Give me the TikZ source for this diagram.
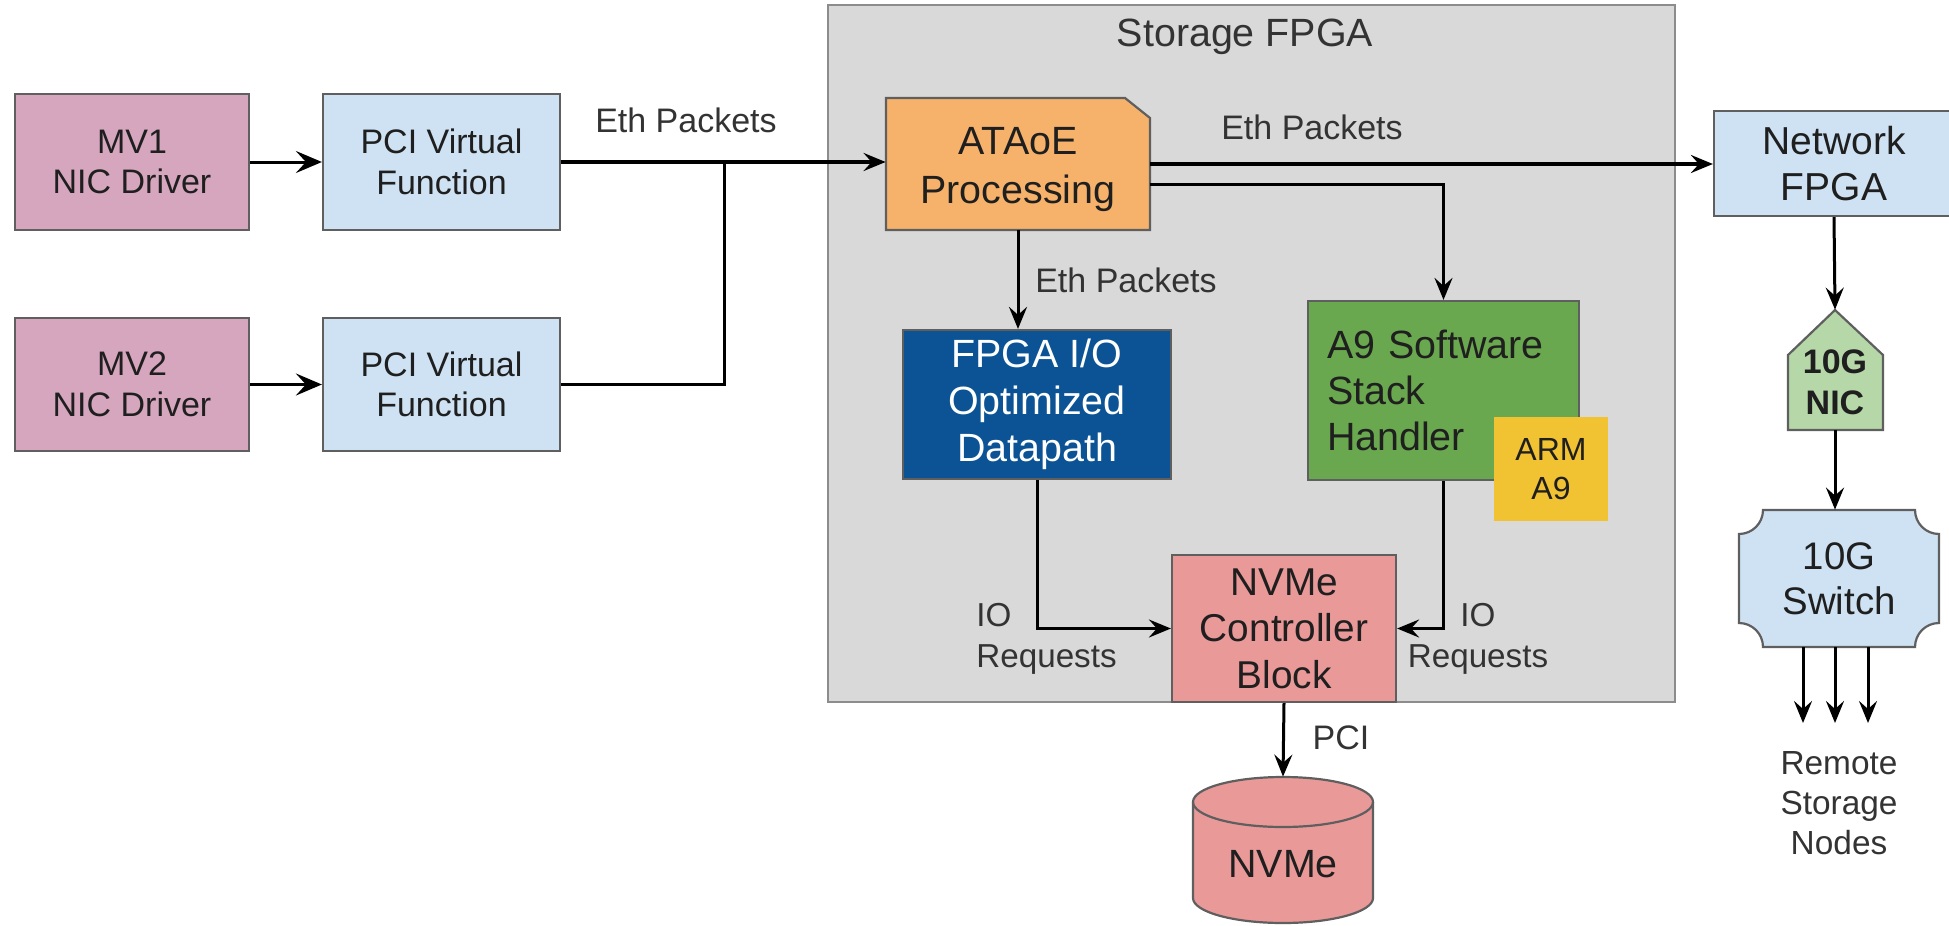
\documentclass[tikz,border=0pt]{standalone}
\usepackage{fontspec}
\setmainfont{Liberation Sans}
\usetikzlibrary{arrows.meta}

\definecolor{mvpink}{HTML}{D5A6BD}
\definecolor{pciblue}{HTML}{CFE2F3}
\definecolor{fpgagray}{HTML}{D9D9D9}
\definecolor{fpgaedge}{HTML}{8C8C8C}
\definecolor{ataorange}{HTML}{F6B26B}
\definecolor{iodark}{HTML}{0B5394}
\definecolor{a9green}{HTML}{6AA84F}
\definecolor{armyellow}{HTML}{F1C232}
\definecolor{nvmered}{HTML}{EA9999}
\definecolor{nicgreen}{HTML}{B6D7A8}
\definecolor{edgegray}{HTML}{5F5F5F}
\definecolor{labelgray}{HTML}{333333}
\definecolor{boxtext}{HTML}{1F1F1F}

\newcommand{\fntbig}{\fontsize{19.7}{23.3}\selectfont}
\newcommand{\fntsmall}{\fontsize{17}{20.3}\selectfont}

\begin{document}
\begin{tikzpicture}[x=0.5pt, y=-0.5pt,
  box/.style={draw=edgegray, line width=1.1pt, inner sep=0pt, align=center, text=boxtext},
  sz/.style 2 args={minimum width=#1*0.5pt, minimum height=#2*0.5pt},
  shapenode/.style={inner sep=0pt, align=center, text=boxtext},
  outline/.style={draw=edgegray, line width=1.1pt},
  lbl/.style={text=labelgray, font=\fntsmall, inner sep=0pt},
  tip/.style={-{Stealth[length=11pt, width=9pt, inset=4pt]}},
  bigtip/.style={-{Stealth[length=13pt, width=11pt, inset=5pt]}},
  wire/.style={line width=1.5pt, draw=black},
  arrow/.style={wire, tip},
  bigarrow/.style={wire, bigtip},
  mainarrow/.style={line width=2pt, draw=black, tip},
]
\useasboundingbox (0,0) rectangle (1949,926);

% storage FPGA enclosure
\node[draw=fpgaedge, fill=fpgagray, line width=1.2pt, sz={847}{697}] (sfpga) at (1251.5,353.5) {};
\node[lbl, font=\fntbig] (sfpgatitle) at (1245,37) {Storage FPGA};

% virtual machines and PCI functions
\node[box, fill=mvpink, sz={234}{136}, font=\fntsmall] (mv1) at (132,162) {MV1\\NIC Driver};
\node[box, fill=pciblue, sz={237}{136}, font=\fntsmall] (vf1) at (441.5,162) {PCI Virtual\\Function};
\node[box, fill=mvpink, sz={234}{133}, font=\fntsmall] (mv2) at (132,384.5) {MV2\\NIC Driver};
\node[box, fill=pciblue, sz={237}{133}, font=\fntsmall] (vf2) at (441.5,384.5) {PCI Virtual\\Function};

% ATAoE block with a snipped corner
\path[outline, fill=ataorange] (886,98) -- (1125,98) -- (1150,118) -- (1150,230) -- (886,230) -- cycle;
\node[shapenode, sz={264}{132}, font=\fntbig,
  label={[shapenode, font={\fontsize{19.7}{24.5}\selectfont}, yshift=-3pt]center:ATAoE\\Processing}] (ataoe) at (1018,164) {};

% fast path and software path
\node[box, fill=iodark, text=white, sz={268}{149}, font={\fontsize{19.7}{23.5}\selectfont}] (fpgaio) at (1037,404.5) {FPGA I/O\\Optimized\\Datapath};
\node[box, fill=a9green, minimum height=89.5pt, text width=116.5pt, inner xsep=9.5pt, align=left,
  font={\fontsize{19.7}{23}\selectfont}] (a9) at (1443.5,390.5) {A9 Software\\Stack\\Handler};
\node[box, draw=none, fill=armyellow, sz={114}{104}, font={\fontsize{16}{19.5}\selectfont}] (arm) at (1551,469) {ARM\\A9};

% NVMe controller and drive
\node[box, fill=nvmered, sz={224}{147}, font={\fontsize{19.4}{23.3}\selectfont}] (nvmec) at (1284,628.5) {NVMe\\Controller\\Block};
\path[outline, fill=nvmered] (1193,802) -- (1193,898)
  arc[start angle=180, end angle=360, x radius=45pt, y radius=12.5pt] -- (1373,802)
  arc[start angle=0, end angle=180, x radius=45pt, y radius=12.5pt] -- cycle;
\draw[outline] (1193,802) arc[start angle=180, end angle=360, x radius=45pt, y radius=12.5pt];
\node[shapenode, sz={180}{146},
  label={[shapenode, font=\fntbig, yshift=-7pt]center:NVMe}] (cyl) at (1283,850) {};

% network side
\node[box, fill=pciblue, sz={240}{105}, font={\fontsize{19.5}{23}\selectfont}] (netfpga) at (1834,163.5) {Network\\FPGA};
\path[outline, fill=nicgreen] (1788,430) -- (1788,355) -- (1835,310) -- (1883,355) -- (1883,430) -- cycle;
\node[shapenode, sz={95}{120},
  label={[shapenode, font=\fntsmall\bfseries, yshift=-6pt]center:10G\\NIC}] (nic) at (1835,370) {};
\path[outline, fill=pciblue] (1763,510) -- (1915,510)
  arc[start angle=180, end angle=270, radius=12pt] -- (1939,623)
  arc[start angle=90, end angle=180, radius=12pt] -- (1763,647)
  arc[start angle=0, end angle=90, radius=12pt] -- (1739,534)
  arc[start angle=270, end angle=360, radius=12pt] -- cycle;
\node[shapenode, sz={200}{137}, font={\fontsize{19.2}{22.5}\selectfont}] (sw) at (1839,578.5) {10G\\Switch};

% connectors
\coordinate (jn) at (724,163);
\draw[bigarrow] (mv1.east) -- (vf1.west);
\draw[bigarrow] (mv2.east) -- (vf2.west);
\draw[mainarrow] (vf1.east) -- (vf1.east -| ataoe.west);
\draw[wire] (vf2.east) -| (jn);
\draw[mainarrow] (ataoe.east) -- (ataoe.east -| netfpga.west);
\draw[arrow] ([yshift=-10pt]ataoe.east) -| (a9.north);
\draw[arrow] (ataoe.south) -- (ataoe.south |- fpgaio.north);
\draw[arrow] (fpgaio.south) |- (nvmec.west);
\draw[arrow] (a9.south) |- (nvmec.east);
\draw[arrow] (nvmec.south) -- (cyl.north);
\draw[arrow] (netfpga.south) -- (nic.north);
\draw[arrow] (nic.south) -- (nic.south |- sw.north);
\coordinate (r1) at (1803,723);
\coordinate (r2) at (1835,723);
\coordinate (r3) at (1868,723);
\draw[arrow] (r1 |- sw.south) -- (r1);
\draw[arrow] (r2 |- sw.south) -- (r2);
\draw[arrow] (r3 |- sw.south) -- (r3);

% connector labels
\node[lbl] (l1) at (686,120) {Eth Packets};
\node[lbl] (l2) at (1312,127) {Eth Packets};
\node[lbl] (l3) at (1126,280) {Eth Packets};
\node[lbl, anchor=west, align=left, font={\fontsize{16.6}{20.5}\selectfont}] (l4) at (976,638.5) {IO\\Requests};
\node[lbl, align=center, font={\fontsize{16.6}{20.5}\selectfont}] (l5) at (1478,638.5) {IO\\Requests};
\node[lbl] (l6) at (1341,738) {PCI};
\node[lbl, align=center, font={\fontsize{16.7}{20}\selectfont}] (l7) at (1839,803) {Remote\\Storage\\Nodes};
\end{tikzpicture}
\end{document}
